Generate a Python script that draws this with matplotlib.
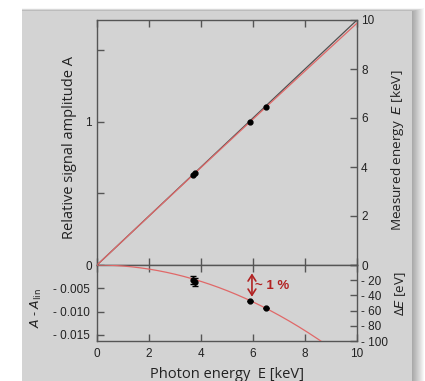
import matplotlib
matplotlib.use("Agg")
import matplotlib.pyplot as plt
import numpy as np
from matplotlib.patches import Rectangle
from matplotlib.ticker import FixedLocator, FixedFormatter

# ---- data ----
point_energy = [3.69, 3.77, 5.90, 6.49]          # keV
point_residual = [-0.0032, -0.0036, -0.0077, -0.0093]
point_err = [0.0008, 0.0008, 0.0, 0.0]
slope = 0.1708          # A per keV (A_lin = slope * E)
curvature = -0.00022    # A - A_lin = curvature * E^2
x_ticks = [0, 2, 4, 6, 8, 10]
top_left_ticks = [0, 0.5, 1, 1.5]
top_left_labels = ["0", "", "1", ""]
top_right_ticks = [0, 2, 4, 6, 8, 10]
top_right_labels = ["", "2", "4", "6", "8", "10"]
bot_left_ticks = [-0.015, -0.010, -0.005]
bot_left_labels = ["- 0.015", "- 0.010", "- 0.005"]
bot_right_ticks = [-100, -80, -60, -40, -20, 0]
bot_right_labels = ["- 100", "- 80", "- 60", "- 40", "- 20", "0"]

BG = "#d3d3d3"
SPINE = "#555555"
RED = "#e06868"
DARKRED = "#b22222"
TXT = "#222222"
TICKFONT = "Liberation Sans"
LABELFONT = "Open Sans"

fig = plt.figure(figsize=(4.25, 3.81), dpi=100)
fig.patch.set_facecolor("white")

# panel shadow + panel
W, H = 425.0, 381.0
for i in range(12):
    fig.patches.append(Rectangle((22 / W, 0), (390 + 1 + i) / W, (370 + i * 0.25) / H,
                                 transform=fig.transFigure, facecolor="black",
                                 alpha=0.03, edgecolor="none", zorder=-5))
fig.patches.append(Rectangle((22 / W, 0), 390 / W, 370 / H, transform=fig.transFigure,
                             facecolor=BG, edgecolor="none", zorder=-4))

left, right = 97 / W, 357 / W
y_top, y_mid, y_bot = 1 - 20 / H, 1 - 265 / H, 1 - 341 / H
ax1 = fig.add_axes([left, y_mid, right - left, y_top - y_mid])
ax2 = fig.add_axes([left, y_bot, right - left, y_mid - y_bot], sharex=ax1)

E = np.linspace(0, 10, 300)
A_lin = slope * E
A_fit = A_lin + curvature * E ** 2
pe = np.array(point_energy)
pr = np.array(point_residual)

ymax_top = slope * 10
ymin_bot = -0.0163

for ax in (ax1, ax2):
    ax.set_facecolor(BG)
    for s in ax.spines.values():
        s.set_color(SPINE)
        s.set_linewidth(1.0)
    ax.set_xlim(0, 10)

# top panel
ax1.plot(E, A_lin, color="#505050", lw=0.9, zorder=2)
ax1.plot(E, A_fit, color=RED, lw=0.9, zorder=3)
ax1.plot(pe, slope * pe + pr, "o", color="black", ms=3.5, zorder=4)
ax1.set_ylim(0, ymax_top)
ax1.yaxis.set_major_locator(FixedLocator(top_left_ticks))
ax1.yaxis.set_major_formatter(FixedFormatter(top_left_labels))
ax1.tick_params(axis="both", direction="in", length=5, color=SPINE, width=1,
                labelsize=8.5, top=True, bottom=True, labelbottom=False)
ax1.set_ylabel("Relative signal amplitude A", fontsize=10.5, family=LABELFONT, color=TXT)
ax1.yaxis.set_label_coords(-0.078, 0.48)

ax1r = ax1.twinx()
ax1r.set_ylim(0, 10)
ax1r.yaxis.set_major_locator(FixedLocator(top_right_ticks))
ax1r.yaxis.set_major_formatter(FixedFormatter(top_right_labels))
ax1r.tick_params(axis="y", direction="in", length=5, color=SPINE, width=1, labelsize=8.5, pad=3)
ax1r.set_ylabel("Measured energy  $\\it{E}$ [keV]", fontsize=9.7, family=LABELFONT, color=TXT)
ax1r.yaxis.set_label_coords(1.125, 0.47)
for s in ax1r.spines.values():
    s.set_visible(False)

# bottom panel
ax2.plot(E, curvature * E ** 2, color=RED, lw=0.9, zorder=3)
ax2.errorbar(pe, pr, yerr=point_err, fmt="o", color="black", ms=3.5, elinewidth=1.0,
             capsize=2, capthick=1.0, zorder=4)
ax2.set_ylim(ymin_bot, 0)
ax2.yaxis.set_major_locator(FixedLocator(bot_left_ticks))
ax2.yaxis.set_major_formatter(FixedFormatter(bot_left_labels))
ax2.xaxis.set_major_locator(FixedLocator(x_ticks))
ax2.tick_params(axis="both", direction="in", length=5, color=SPINE, width=1,
                labelsize=8.5, top=True, bottom=True, pad=5)
ax2.set_xlabel("Photon energy  E [keV]", fontsize=10.5, family=LABELFONT, labelpad=5, color=TXT)
ax2.set_ylabel("$\\it{A}$ - $\\it{A}_{\\rm lin}$", fontsize=9, family=LABELFONT, color=TXT)
ax2.yaxis.set_label_coords(-0.205, 0.43)

ax2r = ax2.twinx()
ax2r.set_ylim(ymin_bot / 0.0163 * 100, 0)
ax2r.yaxis.set_major_locator(FixedLocator(bot_right_ticks))
ax2r.yaxis.set_major_formatter(FixedFormatter(bot_right_labels))
ax2r.tick_params(axis="y", direction="in", length=5, color=SPINE, width=1, labelsize=8.5, pad=3)
ax2r.set_ylabel("Δ$\\it{E}$ [eV]", fontsize=9.5, family=LABELFONT, color=TXT)
ax2r.yaxis.set_label_coords(1.14, 0.62)
for s in ax2r.spines.values():
    s.set_visible(False)

for a in (ax1, ax1r, ax2, ax2r):
    for lab in a.get_xticklabels() + a.get_yticklabels():
        lab.set_fontfamily(TICKFONT)
        lab.set_color(TXT)

# ~1 % annotation
ax2.annotate("", xy=(5.96, -0.0068), xytext=(5.96, -0.0018),
             arrowprops=dict(arrowstyle="<->,head_length=0.55,head_width=0.35",
                             color=DARKRED, lw=1.2, mutation_scale=8,
                             shrinkA=0, shrinkB=0))
ax2.text(6.06, -0.0045, "~ 1 %", color=DARKRED, fontsize=9.5, fontweight="bold",
         family=TICKFONT, va="center", ha="left")

fig.savefig("out.png", dpi=100)
